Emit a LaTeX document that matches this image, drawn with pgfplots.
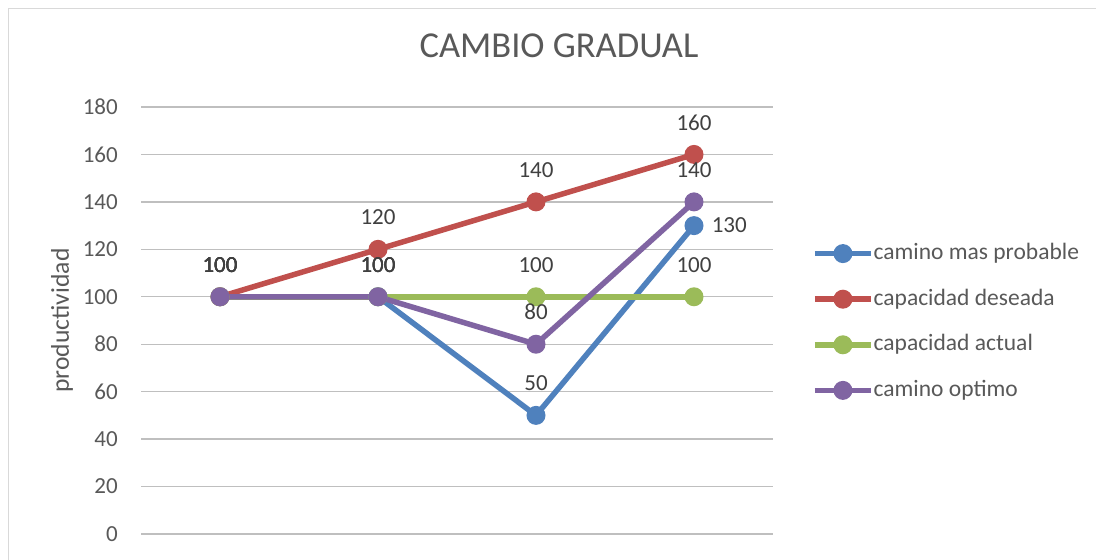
\documentclass[border=0pt]{standalone}
\usepackage{pgfplots}
\pgfplotsset{compat=1.18}
\usepackage{fontspec}
\setmainfont{Carlito}
\definecolor{cblue}{HTML}{4F81BD}
\definecolor{cred}{HTML}{C0504D}
\definecolor{cgreen}{HTML}{9BBB59}
\definecolor{cpurple}{HTML}{8064A2}
\definecolor{txt}{HTML}{595959}
\definecolor{dtxt}{HTML}{404040}
\definecolor{grid}{HTML}{D9D9D9}
\begin{document}
\begin{tikzpicture}[x=1pt,y=1pt]
\clip (0,0) rectangle (1096,560);
\path[use as bounding box] (0,0) rectangle (1096,560);
\fill[white] (0,0) rectangle (1096,560);
\draw[grid,line width=1.3pt] (8.5,-10) -- (8.5,551.5) -- (1110,551.5);
\begin{axis}[
  at={(141pt,26pt)}, anchor=south west,
  scale only axis, width=632pt, height=427pt,
  xmin=0.5, xmax=4.5, ymin=0, ymax=180,
  ytick={0,20,...,180},
  xtick=\empty,
  axis line style={draw=none},
  major tick length=0pt,
  ymajorgrids, grid style={grid, line width=1.3pt},
  yticklabel style={font=\fontsize{23}{27}\selectfont, text=txt, anchor=east, inner sep=0pt, xshift=-23pt},
  /pgf/number format/assume math mode=true,
  ylabel={productividad},
  ylabel style={font=\fontsize{25.6}{30}\selectfont, text=txt, at={(axis description cs:-0.125,0.5)}, anchor=center, rotate=0},
  title={CAMBIO GRADUAL},
  title style={font=\fontsize{36.5}{42}\selectfont, text=txt, at={(axis description cs:0.6614,1.1288)}, anchor=center},
  clip=false,
  every axis plot/.append style={line width=5.5pt, mark=*, mark size=6.7pt, mark options={solid}},
  nodes near coords,
  every node near coord/.append style={font=\fontsize{23}{27}\selectfont, text=dtxt, anchor=center, inner sep=0pt, yshift=32pt},
  legend style={at={(1.0617,0.4965)}, anchor=west, draw=none, fill=none, inner sep=0pt, row sep=25.6pt,
    nodes={font=\fontsize{23.5}{28}\selectfont, text=txt, inner sep=0pt, text height=16pt, text depth=4pt}},
  legend cell align=left,
  legend image code/.code={\draw[line width=5.5pt] (0pt,0pt) -- (56pt,0pt); \fill (28pt,0pt) circle (6.7pt);},
]
\addplot[cblue, visualization depends on={value \thisrow{a} \as \myanc},
  visualization depends on={\thisrow{dx} \as \mydx},
  visualization depends on={\thisrow{dy} \as \mydy},
  every node near coord/.append style={anchor=\myanc, xshift=\mydx pt, yshift=\mydy pt}]
  table {
x y a dx dy
1 100 center 0 0
2 100 center 0 0
3 50 center 0 0
4 130 west 15 -32
};
\addlegendentry{camino mas probable}
\addplot[cred] coordinates {(1,100) (2,120) (3,140) (4,160)};
\addlegendentry{capacidad deseada}
\addplot[cgreen] coordinates {(1,100) (2,100) (3,100) (4,100)};
\addlegendentry{capacidad actual}
\addplot[cpurple] coordinates {(1,100) (2,100) (3,80) (4,140)};
\addlegendentry{camino optimo}
\end{axis}
\end{tikzpicture}
\end{document}
